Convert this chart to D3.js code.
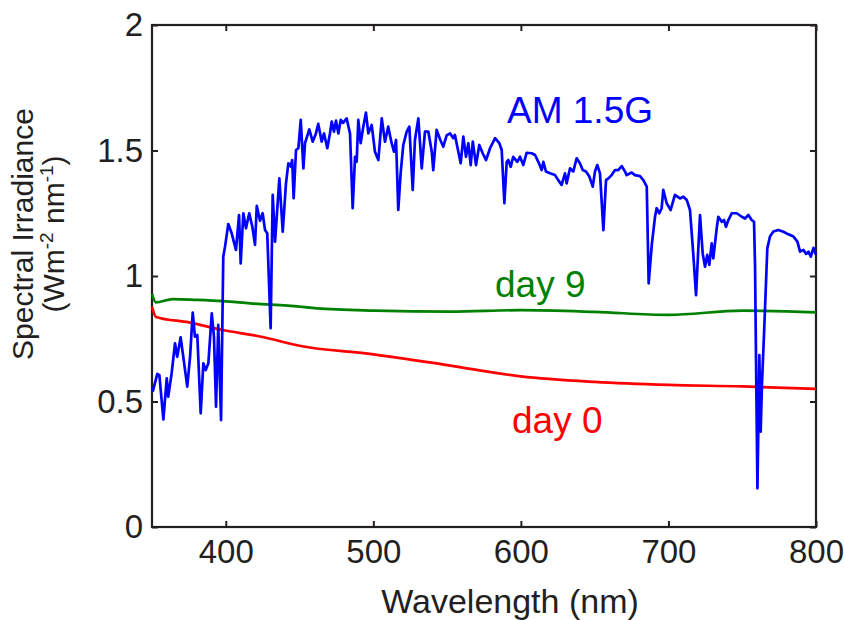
<!DOCTYPE html>
<html>
<head>
<meta charset="utf-8">
<script src="https://cdn.jsdelivr.net/npm/d3@7"></script>
<style>
  html, body { margin: 0; padding: 0; background: #fff; }
  svg { display: block; }
  text { font-family: "Liberation Sans", Arial, Helvetica, sans-serif; }
</style>
</head>
<body>
<svg id="chart" width="844" height="620"></svg>
<script>
// Wavelength axis ticks and irradiance axis ticks
const xTicks = [400, 500, 600, 700, 800];
const yTicks = [0, 0.5, 1, 1.5, 2];

// AM 1.5G reference spectrum (nm, W m^-2 nm^-1)
const amWavelength = [
  350.5, 353.6, 355.0, 357.7, 360.0, 361.0, 363.3, 365.6, 367.1, 369.4,
  371.2, 373.9, 375.8, 377.6, 379.1, 380.7, 383.0, 384.8, 386.4, 388.2,
  390.5, 392.0, 393.4, 394.9, 396.8, 398.3, 399.5, 401.7, 404.0, 406.9,
  409.0, 410.1, 411.9, 413.7, 415.9, 418.0, 419.8, 421.0, 423.2, 425.0,
  426.6, 428.1, 430.4, 431.8, 433.4, 436.3, 438.6, 440.8, 442.4, 444.0,
  445.0, 446.0, 447.6, 449.2, 450.8, 452.6, 453.7, 456.6, 458.9, 461.1,
  462.7, 465.0, 466.6, 468.8, 470.6, 471.8, 473.3, 474.7, 476.3, 477.9,
  479.5, 481.9, 484.2, 486.0, 487.6, 488.7, 489.8, 491.4, 493.2, 495.0,
  496.6, 498.9, 501.1, 503.4, 505.7, 507.9, 510.1, 512.4, 514.0, 515.4,
  516.9, 518.5, 520.3, 522.6, 524.4, 526.7, 528.2, 530.5, 532.8, 535.0,
  537.3, 539.6, 540.6, 542.9, 545.2, 547.4, 549.7, 552.0, 554.2, 555.3,
  557.6, 559.2, 561.0, 562.8, 564.4, 566.0, 567.4, 569.6, 571.8, 574.1,
  576.4, 579.1, 582.5, 585.4, 587.0, 588.8, 590.4, 591.5, 593.1, 594.8,
  597.6, 599.4, 601.6, 603.9, 607.3, 609.6, 611.8, 614.1, 615.2, 617.0,
  619.7, 623.1, 625.3, 627.6, 629.9, 631.0, 633.3, 635.5, 637.8, 640.0,
  641.9, 644.1, 646.4, 648.7, 650.2, 651.8, 653.6, 655.9, 657.7, 659.3,
  661.5, 663.8, 666.0, 668.3, 670.6, 671.7, 673.9, 675.1, 677.3, 680.7,
  683.0, 685.3, 686.6, 688.7, 690.9, 692.0, 693.8, 695.4, 696.5, 698.8,
  701.5, 704.4, 707.8, 710.1, 712.4, 714.6, 716.8, 718.7, 720.2, 721.4,
  723.2, 724.8, 726.3, 727.7, 729.3, 730.4, 732.7, 733.8, 736.1, 737.7,
  739.0, 740.6, 742.9, 746.3, 749.7, 751.9, 754.2, 756.4, 758.0, 758.7,
  759.4, 760.3, 761.2, 761.6, 762.5, 763.4, 764.8, 766.1, 767.0, 768.8,
  771.1, 774.5, 777.9, 781.3, 784.7, 787.4, 789.2, 791.5, 793.3, 794.9,
  796.5, 798.3, 800.0
];
const amIrradiance = [
  0.539, 0.610, 0.605, 0.429, 0.592, 0.519, 0.612, 0.732, 0.678, 0.756,
  0.678, 0.559, 0.678, 0.854, 0.758, 0.765, 0.453, 0.652, 0.625, 0.652,
  0.851, 0.758, 0.479, 0.805, 0.426, 1.077, 1.117, 1.207, 1.170, 1.104,
  1.243, 1.050, 1.250, 1.190, 1.250, 1.196, 1.124, 1.279, 1.220, 1.250,
  1.183, 1.170, 0.792, 1.323, 1.137, 1.389, 1.177, 1.369, 1.449, 1.436,
  1.462, 1.310, 1.502, 1.509, 1.622, 1.429, 1.529, 1.584, 1.535, 1.568,
  1.606, 1.535, 1.568, 1.509, 1.568, 1.615, 1.575, 1.619, 1.568, 1.622,
  1.610, 1.628, 1.568, 1.270, 1.475, 1.455, 1.622, 1.529, 1.595, 1.651,
  1.568, 1.602, 1.495, 1.462, 1.628, 1.535, 1.595, 1.529, 1.495, 1.542,
  1.263, 1.409, 1.522, 1.575, 1.595, 1.343, 1.542, 1.628, 1.429, 1.575,
  1.575, 1.495, 1.422, 1.582, 1.545, 1.515, 1.560, 1.568, 1.549, 1.562,
  1.495, 1.449, 1.555, 1.475, 1.529, 1.442, 1.535, 1.442, 1.522, 1.489,
  1.462, 1.509, 1.549, 1.529, 1.502, 1.290, 1.455, 1.462, 1.435, 1.475,
  1.455, 1.475, 1.442, 1.491, 1.489, 1.482, 1.455, 1.422, 1.455, 1.416,
  1.409, 1.402, 1.382, 1.363, 1.409, 1.369, 1.429, 1.416, 1.469, 1.449,
  1.422, 1.416, 1.396, 1.356, 1.416, 1.442, 1.409, 1.183, 1.382, 1.389,
  1.402, 1.422, 1.422, 1.438, 1.416, 1.402, 1.409, 1.412, 1.402, 1.398,
  1.382, 1.356, 0.971, 1.124, 1.236, 1.270, 1.250, 1.270, 1.343, 1.290,
  1.263, 1.323, 1.309, 1.316, 1.303, 1.263, 1.090, 0.924, 1.104, 1.243,
  1.090, 1.037, 1.084, 1.044, 1.130, 1.070, 1.190, 1.236, 1.216, 1.223,
  1.196, 1.223, 1.250, 1.250, 1.236, 1.229, 1.243, 1.223, 1.216, 1.037,
  0.639, 0.154, 0.506, 0.685, 0.380, 0.573, 0.772, 0.971, 1.110, 1.157,
  1.177, 1.183, 1.176, 1.166, 1.157, 1.137, 1.097, 1.104, 1.088, 1.097,
  1.077, 1.112, 1.084
];

// Measured spectrum, day 9
const day9Wavelength = [350, 352.7, 364, 380, 398, 416.5, 450, 461.7, 501, 552, 600, 650, 700, 750, 800];
const day9Irradiance = [0.928, 0.895, 0.908, 0.905, 0.900, 0.891, 0.878, 0.871, 0.862, 0.858, 0.864, 0.857, 0.845, 0.862, 0.855];

// Measured spectrum, day 0
const day0Wavelength = [350, 352.7, 375, 398, 425, 450, 500, 550, 600, 650, 700, 750, 800];
const day0Irradiance = [0.877, 0.837, 0.815, 0.785, 0.757, 0.722, 0.688, 0.645, 0.600, 0.578, 0.566, 0.560, 0.550];

const ink = "#231f20";
const svg = d3.select("#chart");

const x = d3.scaleLinear().domain([350, 800]).range([152, 816]);
const y = d3.scaleLinear().domain([0, 2]).range([527, 25]);

const line = d3.line().x(d => x(d[0])).y(d => y(d[1]));
const zip = (a, b) => a.map((v, i) => [v, b[i]]);

// plot frame
svg.append("rect")
  .attr("x", x(350)).attr("y", y(2))
  .attr("width", x(800) - x(350)).attr("height", y(0) - y(2))
  .attr("fill", "none").attr("stroke", ink).attr("stroke-width", 2.2);

// axes with inward ticks on all four sides
function styleAxis(g, fontSize) {
  g.select(".domain").remove();
  g.selectAll(".tick line").attr("stroke", ink).attr("stroke-width", 2);
  g.selectAll(".tick text").attr("fill", ink).attr("font-size", fontSize)
    .attr("font-family", "'Liberation Sans', Arial, sans-serif");
}

svg.append("g").attr("transform", `translate(0,${y(0)})`)
  .call(d3.axisBottom(x).tickValues(xTicks).tickSize(-6).tickPadding(13).tickFormat(d3.format("d")))
  .call(g => styleAxis(g, 33));

svg.append("g").attr("transform", `translate(0,${y(2)})`)
  .call(d3.axisTop(x).tickValues(xTicks).tickSize(-6).tickFormat(""))
  .call(g => styleAxis(g, 33));

svg.append("g").attr("transform", `translate(${x(350)},0)`)
  .call(d3.axisLeft(y).tickValues(yTicks).tickSize(-6).tickPadding(9).tickFormat(d => d3.format("")(d)))
  .call(g => styleAxis(g, 33));

svg.append("g").attr("transform", `translate(${x(800)},0)`)
  .call(d3.axisRight(y).tickValues(yTicks).tickSize(-6).tickFormat(""))
  .call(g => styleAxis(g, 33));

// spectra
const curves = [
  { data: zip(day0Wavelength, day0Irradiance), color: "#ff0000", curve: d3.curveMonotoneX },
  { data: zip(day9Wavelength, day9Irradiance), color: "#008000", curve: d3.curveMonotoneX },
  { data: zip(amWavelength, amIrradiance), color: "#0000ff", curve: d3.curveLinear }
];
svg.append("g").selectAll("path").data(curves).join("path")
  .attr("d", d => line.curve(d.curve)(d.data))
  .attr("fill", "none")
  .attr("stroke", d => d.color)
  .attr("stroke-width", 2.7)
  .attr("stroke-linejoin", "round");

// series labels
const labels = [
  { text: "AM 1.5G", x: 507, y: 123, color: "#0000ff" },
  { text: "day 9", x: 495, y: 297, color: "#008000" },
  { text: "day 0", x: 512, y: 433, color: "#ff0000" }
];
svg.append("g").selectAll("text").data(labels).join("text")
  .attr("x", d => d.x).attr("y", d => d.y)
  .attr("fill", d => d.color)
  .attr("font-size", 37)
  .text(d => d.text);

// axis titles
svg.append("text")
  .attr("x", 510).attr("y", 613)
  .attr("text-anchor", "middle")
  .attr("font-size", 34).attr("fill", ink)
  .text("Wavelength (nm)");

const yTitle = svg.append("g").attr("transform", "translate(0,234) rotate(-90)");
yTitle.append("text")
  .attr("x", 0).attr("y", 33)
  .attr("text-anchor", "middle")
  .attr("font-size", 30).attr("fill", ink)
  .text("Spectral Irradiance");
const unit = yTitle.append("text")
  .attr("x", 0).attr("y", 64)
  .attr("text-anchor", "middle")
  .attr("font-size", 30).attr("fill", ink);
unit.append("tspan").text("(Wm");
unit.append("tspan").attr("font-size", 19).attr("dy", -11).text("-2");
unit.append("tspan").attr("dy", 11).text(" nm");
unit.append("tspan").attr("font-size", 19).attr("dy", -11).text("-1");
unit.append("tspan").attr("dy", 11).text(")");
</script>
</body>
</html>
